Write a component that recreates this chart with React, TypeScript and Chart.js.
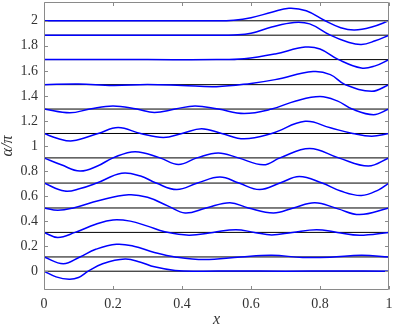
import { useEffect, useRef } from "react";
import { Chart, registerables } from "chart.js";

Chart.register(...registerables);

// ---- data ----
const xTicks = [0, 0.2, 0.4, 0.6, 0.8, 1];
const yTicks = [0, 0.2, 0.4, 0.6, 0.8, 1, 1.2, 1.4, 1.6, 1.8, 2];
const yMin = -0.15;
const yMax = 2.15;

const baselines = [0, 0.114, 0.31, 0.505, 0.704, 0.905, 1.1, 1.295, 1.49, 1.69, 1.885, 2.0];

const curve0: [number, number][] = [
  [0, 0], [0.035, -0.045], [0.073, -0.064], [0.1, -0.05], [0.128, 0], [0.17, 0.06], [0.235, 0.097],
  [0.28, 0.072], [0.32, 0.035], [0.38, 0.006], [0.45, 0], [0.55, 0.002], [0.7, 0], [0.85, 0.002], [1, 0],
];
const curve1: [number, number][] = [
  [0, 0.114], [0.056, 0.06], [0.104, 0.114], [0.15, 0.175], [0.21, 0.215], [0.26, 0.2], [0.32, 0.15],
  [0.38, 0.114], [0.465, 0.093], [0.57, 0.114], [0.66, 0.127], [0.75, 0.11], [0.83, 0.112], [0.92, 0.127], [1, 0.114],
];
const curve2: [number, number][] = [
  [0, 0.31], [0.04, 0.27], [0.09, 0.31], [0.15, 0.375], [0.2, 0.41], [0.25, 0.4], [0.3, 0.36], [0.35, 0.315],
  [0.42, 0.288], [0.49, 0.31], [0.556, 0.332], [0.61, 0.31], [0.66, 0.29], [0.72, 0.31], [0.79, 0.332],
  [0.85, 0.31], [0.915, 0.288], [1, 0.31],
];
const curve3: [number, number][] = [
  [0, 0.505], [0.04, 0.486], [0.085, 0.505], [0.16, 0.565], [0.245, 0.61], [0.3, 0.59], [0.36, 0.52],
  [0.409, 0.465], [0.47, 0.505], [0.539, 0.547], [0.592, 0.505], [0.665, 0.465], [0.723, 0.505],
  [0.785, 0.547], [0.85, 0.5], [0.915, 0.452], [1, 0.505],
];
const curve4: [number, number][] = [
  [0, 0.704], [0.06, 0.64], [0.105, 0.66], [0.153, 0.704], [0.225, 0.782], [0.28, 0.76], [0.325, 0.704],
  [0.385, 0.652], [0.445, 0.704], [0.51, 0.752], [0.565, 0.704], [0.625, 0.652], [0.684, 0.704],
  [0.74, 0.756], [0.806, 0.704], [0.86, 0.64], [0.92, 0.605], [0.97, 0.65], [1, 0.704],
];
const curve5: [number, number][] = [
  [0, 0.905], [0.05, 0.85], [0.104, 0.8], [0.155, 0.84], [0.2, 0.905], [0.264, 0.955], [0.336, 0.905],
  [0.39, 0.853], [0.443, 0.905], [0.505, 0.945], [0.563, 0.905], [0.636, 0.85], [0.684, 0.905],
  [0.77, 0.98], [0.854, 0.905], [0.94, 0.84], [1, 0.905],
];
const curve6: [number, number][] = [
  [0, 1.1], [0.04, 1.06], [0.083, 1.041], [0.157, 1.1], [0.215, 1.147], [0.28, 1.1], [0.346, 1.068],
  [0.4, 1.1], [0.457, 1.138], [0.515, 1.1], [0.58, 1.057], [0.66, 1.1], [0.757, 1.197], [0.83, 1.145],
  [0.895, 1.1], [0.95, 1.078], [1, 1.1],
];
const curve7: [number, number][] = [
  [0, 1.295], [0.075, 1.265], [0.133, 1.295], [0.2, 1.32], [0.269, 1.295], [0.32, 1.268], [0.38, 1.295],
  [0.438, 1.32], [0.505, 1.295], [0.58, 1.26], [0.66, 1.295], [0.73, 1.36], [0.8, 1.395], [0.85, 1.36],
  [0.893, 1.295], [0.955, 1.25], [1, 1.295],
];
const curve8: [number, number][] = [
  [0, 1.49], [0.1, 1.496], [0.2, 1.484], [0.3, 1.492], [0.4, 1.484], [0.5, 1.474], [0.6, 1.5],
  [0.67, 1.53], [0.78, 1.594], [0.83, 1.57], [0.873, 1.49], [0.95, 1.437], [1, 1.49],
];
const curve9: [number, number][] = [
  [0, 1.69], [0.3, 1.69], [0.5, 1.69], [0.58, 1.697], [0.67, 1.735], [0.757, 1.79], [0.8, 1.775],
  [0.854, 1.69], [0.92, 1.623], [0.96, 1.64], [1, 1.69],
];
const curve10: [number, number][] = [
  [0, 1.885], [0.5, 1.885], [0.55, 1.887], [0.6, 1.9], [0.66, 1.95], [0.725, 1.987], [0.77, 1.975],
  [0.83, 1.885], [0.88, 1.83], [0.92, 1.81], [0.96, 1.84], [1, 1.885],
];
const curve11: [number, number][] = [
  [0, 2], [0.5, 2], [0.55, 2.005], [0.6, 2.025], [0.66, 2.068], [0.71, 2.1], [0.76, 2.08], [0.815, 2],
  [0.86, 1.945], [0.9, 1.926], [0.95, 1.95], [1, 2],
];

const curves = [curve0, curve1, curve2, curve3, curve4, curve5, curve6, curve7, curve8, curve9, curve10, curve11];

// ---- style ----
const AXIS_COLOR = "#8a8a8a";
const TEXT_COLOR = "#333333";
const FONT = "'Liberation Serif', 'DejaVu Serif', serif";

const fmt = (v: number) => String(Number(Number(v).toFixed(2)));

const boxPlugin = {
  id: "boxTicks",
  afterDatasetsDraw(chart: any) {
    const { ctx, chartArea, scales } = chart;
    const { left, right, top, bottom } = chartArea;
    const xs = scales.x;
    const ys = scales.y;
    const L = Math.round(left) + 0.5;
    const R = Math.round(right) - 0.5;
    const T = Math.round(top) + 0.5;
    const B = Math.round(bottom) - 0.5;
    const tl = 3.5;
    ctx.save();
    ctx.strokeStyle = AXIS_COLOR;
    ctx.lineWidth = 1;
    ctx.beginPath();
    ctx.rect(L, T, R - L, B - T);
    for (const v of xTicks) {
      const p = Math.round(xs.getPixelForValue(v)) + 0.5;
      ctx.moveTo(p, B);
      ctx.lineTo(p, B - tl);
      ctx.moveTo(p, T);
      ctx.lineTo(p, T + tl);
    }
    for (const v of yTicks) {
      const p = Math.round(ys.getPixelForValue(v)) + 0.5;
      ctx.moveTo(L, p);
      ctx.lineTo(L + tl, p);
      ctx.moveTo(R, p);
      ctx.lineTo(R - tl, p);
    }
    ctx.stroke();
    ctx.restore();
  },
};

export default function App() {
  const ref = useRef<HTMLCanvasElement | null>(null);

  useEffect(() => {
    if (!ref.current) return;
    const datasets: any[] = [];
    baselines.forEach((b, i) => {
      datasets.push({
        label: "base" + i,
        data: [
          { x: 0, y: b },
          { x: 1, y: b },
        ],
        borderColor: "#000000",
        borderWidth: 1,
        pointRadius: 0,
        order: 2,
      });
    });
    curves.forEach((c, i) => {
      datasets.push({
        label: "curve" + i,
        data: c.map(([x, y]) => ({ x, y })),
        borderColor: "#0000ff",
        borderWidth: 1.5,
        pointRadius: 0,
        tension: 0.4,
        order: 1,
      });
    });

    const chart = new Chart(ref.current, {
      type: "line",
      data: { datasets },
      plugins: [boxPlugin],
      options: {
        animation: false,
        responsive: false,
        parsing: false as any,
        layout: { padding: { top: 2, right: 6, left: 0, bottom: 0 } },
        plugins: { legend: { display: false }, tooltip: { enabled: false } },
        scales: {
          x: {
            type: "linear",
            min: 0,
            max: 1,
            bounds: "data",
            grid: { display: false, drawTicks: false },
            border: { display: false },
            afterBuildTicks: (s: any) => {
              s.ticks = xTicks.map((v) => ({ value: v }));
            },
            afterFit: (s: any) => {
              s.height = 38;
              s.paddingLeft = 0;
              s.paddingRight = 0;
            },
            ticks: {
              padding: 6,
              color: TEXT_COLOR,
              font: { family: FONT, size: 14 },
              maxRotation: 0,
              autoSkip: false,
              callback: (v: any) => fmt(v),
            },
            title: {
              display: true,
              text: "x",
              color: TEXT_COLOR,
              font: { family: FONT, size: 16, style: "italic", lineHeight: 1 },
              padding: { top: 0, bottom: 0 },
            },
          },
          y: {
            type: "linear",
            min: yMin,
            max: yMax,
            bounds: "data",
            grid: { display: false, drawTicks: false },
            border: { display: false },
            afterBuildTicks: (s: any) => {
              s.ticks = yTicks.map((v) => ({ value: v }));
            },
            afterFit: (s: any) => {
              s.width = 44;
              s.paddingTop = 0;
              s.paddingBottom = 0;
            },
            ticks: {
              padding: 6,
              color: TEXT_COLOR,
              font: { family: FONT, size: 14 },
              autoSkip: false,
              callback: (v: any) => fmt(v),
            },
            title: {
              display: true,
              text: "α/π",
              color: TEXT_COLOR,
              font: { family: FONT, size: 16, style: "italic", lineHeight: 1 },
              padding: { top: 0, bottom: 0 },
            },
          },
        },
      },
    });
    return () => chart.destroy();
  }, []);

  return (
    <div style={{ position: "absolute", left: 0, top: 0, width: 395, height: 328, background: "#fff" }}>
      <canvas ref={ref} width={395} height={328} style={{ display: "block" }} />
    </div>
  );
}
